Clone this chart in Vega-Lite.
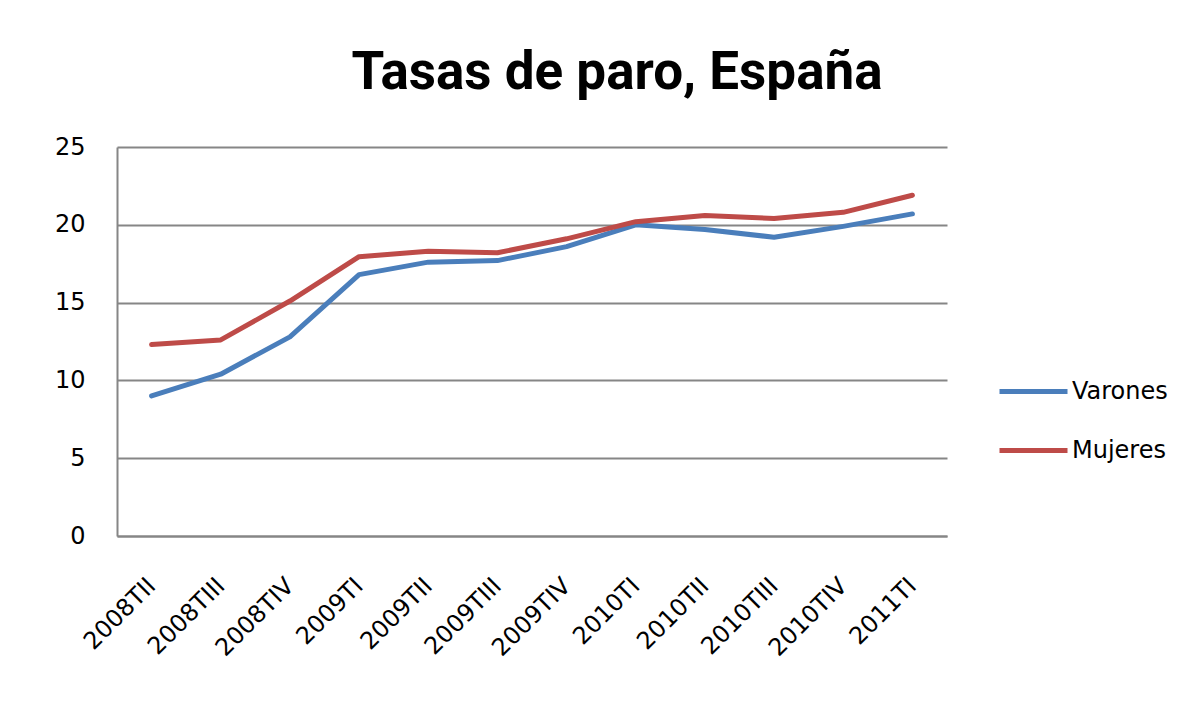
{
  "$schema": "https://vega.github.io/schema/vega-lite/v6.json",
  "width": 830,
  "height": 389,
  "autosize": {"type": "none"},
  "padding": {"left": 117, "top": 147, "right": 246, "bottom": 187},
  "background": "white",
  "title": {
    "text": "Tasas de paro, España",
    "font": "Roboto",
    "fontSize": 53,
    "fontWeight": "bold",
    "color": "black",
    "anchor": "middle",
    "frame": "group",
    "dx": 85,
    "offset": 35
  },
  "data": {
    "values": [
      {"t": "2008TII", "s": "Varones", "v": 9.0},
      {"t": "2008TIII", "s": "Varones", "v": 10.4},
      {"t": "2008TIV", "s": "Varones", "v": 12.8},
      {"t": "2009TI", "s": "Varones", "v": 16.8},
      {"t": "2009TII", "s": "Varones", "v": 17.6},
      {"t": "2009TIII", "s": "Varones", "v": 17.7},
      {"t": "2009TIV", "s": "Varones", "v": 18.6},
      {"t": "2010TI", "s": "Varones", "v": 20.0},
      {"t": "2010TII", "s": "Varones", "v": 19.7},
      {"t": "2010TIII", "s": "Varones", "v": 19.2},
      {"t": "2010TIV", "s": "Varones", "v": 19.9},
      {"t": "2011TI", "s": "Varones", "v": 20.7},
      {"t": "2008TII", "s": "Mujeres", "v": 12.3},
      {"t": "2008TIII", "s": "Mujeres", "v": 12.6},
      {"t": "2008TIV", "s": "Mujeres", "v": 15.1},
      {"t": "2009TI", "s": "Mujeres", "v": 17.95},
      {"t": "2009TII", "s": "Mujeres", "v": 18.3},
      {"t": "2009TIII", "s": "Mujeres", "v": 18.2},
      {"t": "2009TIV", "s": "Mujeres", "v": 19.1},
      {"t": "2010TI", "s": "Mujeres", "v": 20.2},
      {"t": "2010TII", "s": "Mujeres", "v": 20.6},
      {"t": "2010TIII", "s": "Mujeres", "v": 20.4},
      {"t": "2010TIV", "s": "Mujeres", "v": 20.8},
      {"t": "2011TI", "s": "Mujeres", "v": 21.9}
    ]
  },
  "mark": {"type": "line", "strokeWidth": 5, "strokeCap": "round", "strokeJoin": "round"},
  "encoding": {
    "x": {
      "field": "t",
      "type": "ordinal",
      "sort": null,
      "scale": {"paddingInner": 0, "paddingOuter": 0.5},
      "axis": {
        "title": null,
        "labelAngle": -45,
        "labelAlign": "right",
        "labelBaseline": "middle",
        "labelFont": "DejaVu Sans",
        "labelFontSize": 24,
        "labelColor": "black",
        "labelPadding": 46,
        "domainColor": "#868686",
        "domainWidth": 2,
        "ticks": false,
        "grid": false
      }
    },
    "y": {
      "field": "v",
      "type": "quantitative",
      "scale": {"domain": [0, 25], "nice": false},
      "axis": {
        "title": null,
        "values": [0, 5, 10, 15, 20, 25],
        "labelFont": "DejaVu Sans",
        "labelFontSize": 24,
        "labelColor": "black",
        "labelPadding": 32,
        "ticks": false,
        "domainColor": "#868686",
        "domainWidth": 2,
        "gridColor": "#868686",
        "gridWidth": 2
      }
    },
    "color": {
      "field": "s",
      "type": "nominal",
      "sort": ["Varones", "Mujeres"],
      "scale": {"domain": ["Varones", "Mujeres"], "range": ["#4A7EBB", "#BE4B48"]},
      "legend": {
        "title": null,
        "orient": "none",
        "legendX": 880,
        "legendY": 208,
        "symbolType": "stroke",
        "symbolSize": 4624,
        "symbolStrokeWidth": 5,
        "labelFont": "DejaVu Sans",
        "labelFontSize": 24,
        "labelColor": "black",
        "labelOffset": 2,
        "rowPadding": 10
      }
    }
  },
  "config": {
    "view": {"stroke": null}
  }
}
